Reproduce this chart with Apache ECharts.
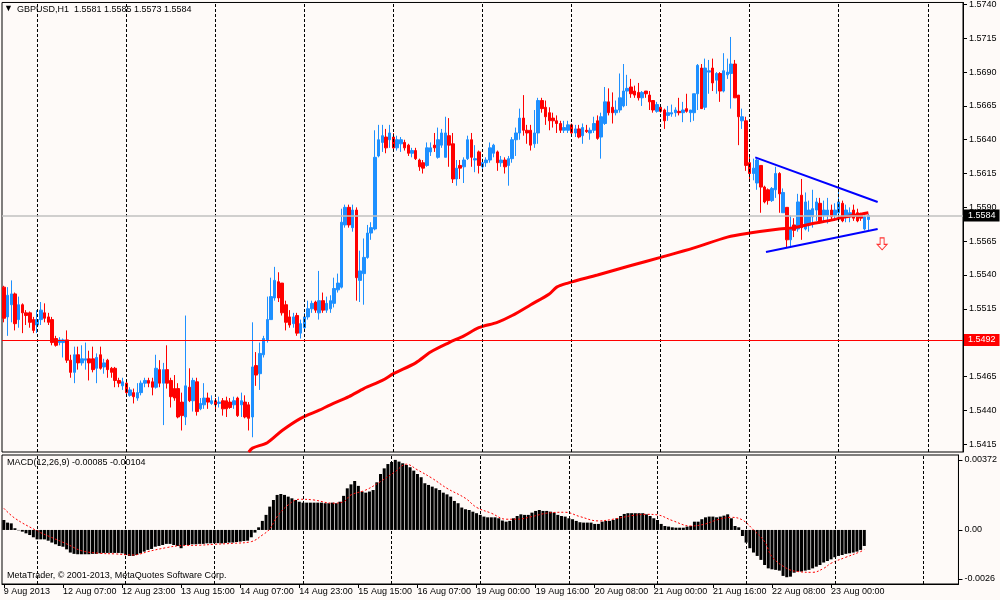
<!DOCTYPE html>
<html>
<head>
<meta charset="utf-8">
<script src="https://cdn.jsdelivr.net/npm/echarts@6/dist/echarts.min.js"></script>
<style>
html, body { margin: 0; padding: 0; background: #fefaf8; }
#chart { width: 1000px; height: 600px; }
</style>
</head>
<body>
<div id="chart"></div>
<script>
const symbolTitle = 'GBPUSD,H1  1.5581 1.5585 1.5573 1.5584';
const macdTitle = 'MACD(12,26,9) -0.00085 -0.00104';
const copyright = 'MetaTrader, \u00a9 2001-2013, MetaQuotes Software Corp.';

// one label every 16 bars
const tickLabels = ['9 Aug 2013', '12 Aug 07:00', '12 Aug 23:00', '13 Aug 15:00', '14 Aug 07:00',
    '14 Aug 23:00', '15 Aug 15:00', '16 Aug 07:00', '19 Aug 00:00', '19 Aug 16:00',
    '20 Aug 08:00', '21 Aug 00:00', '21 Aug 16:00', '22 Aug 08:00', '23 Aug 00:00'];
// bars where the dotted separators sit
const dayBars = [9, 33, 57, 81, 105, 129, 153, 177, 201, 225, 249];
const priceTicks = [1.5415, 1.5440, 1.5465, 1.5490, 1.5515, 1.5540, 1.5565, 1.5590,
    1.5615, 1.5640, 1.5665, 1.5690, 1.5715, 1.5740];
const macdTicks = [0.00372, 0, -0.0026];
const macdTickText = ['0.00372', '0.00', '-0.0026'];
const barCount = 259;

// [open, close, low, high]
const candles = [
    [1.5531,1.5508,1.5505,1.5532],[1.5509,1.5525,1.5495,1.5531],[1.5518,1.5526,1.5505,1.5536],[1.5526,1.5504,1.5499,1.5527],
    [1.5507,1.5518,1.5501,1.5524],[1.5518,1.5512,1.5497,1.5519],[1.5512,1.5510,1.5503,1.5514],[1.5512,1.5505,1.5501,1.5513],
    [1.5507,1.5499,1.5497,1.5509],[1.5503,1.5507,1.5497,1.5514],[1.5507,1.5514,1.5503,1.5520],[1.5512,1.5508,1.5505,1.5519],
    [1.5509,1.5505,1.5503,1.5512],[1.5507,1.5490,1.5488,1.5509],[1.5493,1.5488,1.5487,1.5495],[1.5490,1.5492,1.5488,1.5494],
    [1.5490,1.5492,1.5479,1.5493],[1.5492,1.5477,1.5475,1.5499],[1.5477,1.5468,1.5464,1.5481],[1.5468,1.5481,1.5460,1.5487],
    [1.5481,1.5475,1.5470,1.5487],[1.5475,1.5478,1.5473,1.5488],[1.5477,1.5478,1.5470,1.5490],[1.5478,1.5475,1.5462,1.5484],
    [1.5478,1.5470,1.5468,1.5487],[1.5471,1.5479,1.5460,1.5482],[1.5481,1.5471,1.5470,1.5487],[1.5472,1.5475,1.5467,1.5478],
    [1.5477,1.5470,1.5464,1.5478],[1.5471,1.5468,1.5464,1.5472],[1.5471,1.5462,1.5457,1.5472],[1.5462,1.5460,1.5457,1.5464],
    [1.5458,1.5461,1.5455,1.5464],[1.5460,1.5453,1.5450,1.5462],[1.5451,1.5455,1.5450,1.5457],[1.5453,1.5450,1.5445,1.5456],
    [1.5449,1.5453,1.5447,1.5460],[1.5453,1.5460,1.5451,1.5462],[1.5460,1.5462,1.5457,1.5464],[1.5462,1.5460,1.5457,1.5464],
    [1.5461,1.5457,1.5451,1.5464],[1.5457,1.5471,1.5456,1.5481],[1.5470,1.5460,1.5457,1.5477],[1.5460,1.5470,1.5429,1.5475],
    [1.5470,1.5460,1.5456,1.5488],[1.5462,1.5450,1.5442,1.5464],[1.5456,1.5449,1.5447,1.5466],[1.5456,1.5435,1.5434,1.5460],
    [1.5446,1.5436,1.5425,1.5453],[1.5435,1.5458,1.5429,1.5510],[1.5457,1.5447,1.5446,1.5471],[1.5447,1.5462,1.5439,1.5464],
    [1.5461,1.5439,1.5436,1.5464],[1.5441,1.5445,1.5440,1.5449],[1.5444,1.5449,1.5441,1.5460],[1.5449,1.5446,1.5441,1.5453],
    [1.5445,1.5447,1.5444,1.5451],[1.5447,1.5444,1.5440,1.5449],[1.5445,1.5446,1.5442,1.5450],[1.5447,1.5441,1.5436,1.5449],
    [1.5447,1.5441,1.5435,1.5450],[1.5446,1.5442,1.5441,1.5449],[1.5444,1.5447,1.5441,1.5450],[1.5449,1.5436,1.5435,1.5450],
    [1.5444,1.5447,1.5435,1.5453],[1.5446,1.5435,1.5434,1.5451],[1.5444,1.5434,1.5425,1.5446],[1.5435,1.5472,1.5420,1.5505],
    [1.5473,1.5466,1.5458,1.5483],[1.5467,1.5482,1.5455,1.5490],[1.5481,1.5493,1.5479,1.5495],[1.5492,1.5507,1.5490,1.5524],
    [1.5507,1.5524,1.5507,1.5538],[1.5523,1.5536,1.5521,1.5546],[1.5535,1.5523,1.5520,1.5542],[1.5534,1.5512,1.5510,1.5534],
    [1.5518,1.5505,1.5499,1.5521],[1.5509,1.5503,1.5501,1.5514],[1.5504,1.5509,1.5501,1.5512],[1.5510,1.5497,1.5495,1.5512],
    [1.5497,1.5504,1.5493,1.5507],[1.5501,1.5509,1.5499,1.5512],[1.5509,1.5515,1.5507,1.5521],[1.5515,1.5519,1.5512,1.5521],
    [1.5520,1.5514,1.5512,1.5521],[1.5512,1.5521,1.5507,1.5543],[1.5521,1.5514,1.5512,1.5527],[1.5514,1.5519,1.5512,1.5524],
    [1.5515,1.5521,1.5512,1.5525],[1.5519,1.5530,1.5516,1.5538],[1.5529,1.5534,1.5527,1.5541],[1.5531,1.5579,1.5530,1.5589],
    [1.5577,1.5590,1.5575,1.5592],[1.5590,1.5577,1.5575,1.5592],[1.5575,1.5588,1.5572,1.5592],[1.5588,1.5538,1.5521,1.5590],
    [1.5536,1.5543,1.5520,1.5558],[1.5541,1.5553,1.5518,1.5567],[1.5553,1.5571,1.5552,1.5577],[1.5571,1.5575,1.5566,1.5579],
    [1.5574,1.5627,1.5573,1.5647],[1.5628,1.5640,1.5627,1.5651],[1.5638,1.5643,1.5631,1.5651],[1.5642,1.5634,1.5630,1.5648],
    [1.5640,1.5645,1.5634,1.5651],[1.5642,1.5634,1.5631,1.5645],[1.5634,1.5640,1.5632,1.5643],[1.5637,1.5640,1.5631,1.5642],
    [1.5638,1.5634,1.5632,1.5640],[1.5636,1.5630,1.5628,1.5637],[1.5630,1.5632,1.5627,1.5634],[1.5632,1.5626,1.5625,1.5634],
    [1.5625,1.5620,1.5617,1.5626],[1.5623,1.5619,1.5615,1.5625],[1.5621,1.5634,1.5620,1.5638],[1.5631,1.5634,1.5628,1.5638],
    [1.5636,1.5634,1.5631,1.5645],[1.5627,1.5640,1.5626,1.5649],[1.5636,1.5645,1.5634,1.5648],[1.5627,1.5645,1.5627,1.5657],
    [1.5643,1.5636,1.5620,1.5656],[1.5637,1.5611,1.5608,1.5645],[1.5611,1.5619,1.5606,1.5625],[1.5621,1.5619,1.5611,1.5625],
    [1.5620,1.5625,1.5608,1.5627],[1.5626,1.5640,1.5625,1.5643],[1.5640,1.5627,1.5620,1.5645],[1.5625,1.5626,1.5616,1.5636],
    [1.5631,1.5621,1.5615,1.5632],[1.5620,1.5623,1.5617,1.5626],[1.5623,1.5625,1.5620,1.5627],[1.5625,1.5634,1.5623,1.5638],
    [1.5630,1.5636,1.5627,1.5637],[1.5631,1.5623,1.5617,1.5632],[1.5623,1.5625,1.5620,1.5628],[1.5625,1.5620,1.5615,1.5627],
    [1.5621,1.5626,1.5606,1.5628],[1.5626,1.5640,1.5623,1.5642],[1.5640,1.5645,1.5628,1.5649],[1.5645,1.5656,1.5640,1.5663],
    [1.5656,1.5647,1.5643,1.5673],[1.5647,1.5645,1.5637,1.5651],[1.5647,1.5636,1.5632,1.5651],[1.5637,1.5645,1.5634,1.5662],
    [1.5645,1.5669,1.5637,1.5671],[1.5669,1.5663,1.5660,1.5671],[1.5664,1.5657,1.5651,1.5669],[1.5660,1.5654,1.5647,1.5664],
    [1.5656,1.5654,1.5649,1.5660],[1.5654,1.5652,1.5645,1.5658],[1.5652,1.5647,1.5645,1.5654],[1.5647,1.5649,1.5645,1.5654],
    [1.5647,1.5651,1.5645,1.5654],[1.5651,1.5645,1.5643,1.5652],[1.5645,1.5648,1.5642,1.5651],[1.5648,1.5642,1.5641,1.5651],
    [1.5643,1.5649,1.5637,1.5652],[1.5647,1.5646,1.5645,1.5651],[1.5645,1.5647,1.5640,1.5649],[1.5647,1.5652,1.5645,1.5657],
    [1.5654,1.5641,1.5640,1.5658],[1.5642,1.5657,1.5626,1.5660],[1.5652,1.5668,1.5651,1.5679],[1.5668,1.5660,1.5658,1.5678],
    [1.5664,1.5660,1.5652,1.5675],[1.5660,1.5662,1.5658,1.5669],[1.5662,1.5671,1.5660,1.5689],[1.5665,1.5676,1.5664,1.5696],
    [1.5676,1.5678,1.5665,1.5688],[1.5679,1.5674,1.5671,1.5685],[1.5676,1.5673,1.5671,1.5680],[1.5675,1.5671,1.5669,1.5682],
    [1.5671,1.5675,1.5665,1.5676],[1.5676,1.5674,1.5671,1.5676],[1.5673,1.5668,1.5662,1.5676],[1.5669,1.5662,1.5660,1.5669],
    [1.5661,1.5666,1.5660,1.5668],[1.5664,1.5661,1.5660,1.5665],[1.5662,1.5654,1.5648,1.5663],[1.5658,1.5660,1.5654,1.5665],
    [1.5659,1.5660,1.5657,1.5666],[1.5660,1.5662,1.5657,1.5664],[1.5661,1.5660,1.5658,1.5671],[1.5660,1.5662,1.5653,1.5668],
    [1.5663,1.5661,1.5660,1.5674],[1.5660,1.5662,1.5653,1.5662],[1.5660,1.5674,1.5654,1.5674],[1.5674,1.5695,1.5662,1.5696],
    [1.5693,1.5663,1.5663,1.5696],[1.5664,1.5693,1.5662,1.5700],[1.5690,1.5691,1.5674,1.5699],[1.5693,1.5682,1.5676,1.5700],
    [1.5684,1.5689,1.5674,1.5690],[1.5689,1.5676,1.5668,1.5690],[1.5676,1.5691,1.5675,1.5704],[1.5688,1.5690,1.5685,1.5700],
    [1.5689,1.5696,1.5663,1.5716],[1.5696,1.5671,1.5671,1.5699],[1.5673,1.5657,1.5636,1.5673],[1.5654,1.5657,1.5648,1.5663],
    [1.5654,1.5621,1.5617,1.5657],[1.5623,1.5615,1.5611,1.5628],[1.5615,1.5619,1.5610,1.5626],[1.5608,1.5625,1.5603,1.5626],
    [1.5621,1.5605,1.5586,1.5621],[1.5605,1.5594,1.5593,1.5606],[1.5603,1.5595,1.5592,1.5604],[1.5595,1.5604,1.5594,1.5605],
    [1.5603,1.5615,1.5597,1.5620],[1.5615,1.5600,1.5586,1.5616],[1.5586,1.5601,1.5586,1.5604],[1.5590,1.5566,1.5560,1.5590],
    [1.5566,1.5574,1.5560,1.5584],[1.5577,1.5573,1.5568,1.5582],[1.5574,1.5594,1.5572,1.5600],[1.5599,1.5575,1.5566,1.5611],
    [1.5574,1.5594,1.5573,1.5601],[1.5577,1.5588,1.5572,1.5595],[1.5583,1.5589,1.5575,1.5603],[1.5588,1.5594,1.5580,1.5597],
    [1.5593,1.5579,1.5578,1.5597],[1.5584,1.5588,1.5579,1.5595],[1.5584,1.5588,1.5578,1.5597],[1.5588,1.5583,1.5580,1.5592],
    [1.5584,1.5588,1.5580,1.5593],[1.5586,1.5594,1.5582,1.5603],[1.5593,1.5580,1.5579,1.5595],[1.5583,1.5588,1.5579,1.5592],
    [1.5584,1.5586,1.5579,1.5590],[1.5588,1.5582,1.5580,1.5592],[1.5586,1.5580,1.5579,1.5589],[1.5584,1.5582,1.5580,1.5586],
    [1.5574,1.5583,1.5573,1.5584],[1.5581,1.5584,1.5573,1.5585]
];

// moving average, [bar, price]
const maLine = [[66,1.5409],[67,1.5412],[71,1.5416],[75,1.5425],[80,1.5434],[85,1.5440],[88,1.5444],[93,1.5450],
    [97,1.5456],[102,1.5462],[105,1.5467],[111,1.5475],[115,1.5483],[120,1.5490],[124,1.5495],[128,1.5501],
    [133,1.5505],[137,1.5510],[142,1.5518],[147,1.5526],[149,1.5531],[152,1.5534],[160,1.5540],[169,1.5547],
    [177,1.5553],[186,1.5560],[195,1.5568],[201,1.5571],[209,1.5574],[213,1.5575],[218,1.5578],[222,1.5580],
    [227,1.5583],[231,1.5585],[233,1.5586]];

const macdHist = [
    0.00053,0.00039,0.00035,0.00009,-0.00002,-0.00009,-0.00018,-0.00027,-0.00039,-0.0005,
    -0.0005,-0.0005,-0.00057,-0.00067,-0.00076,-0.00085,-0.00089,-0.00103,-0.0012,-0.00127,
    -0.00129,-0.00129,-0.00129,-0.00129,-0.00127,-0.00127,-0.00124,-0.00122,-0.00122,-0.00122,
    -0.00122,-0.00122,-0.00124,-0.00133,-0.00138,-0.00138,-0.00133,-0.00124,-0.00115,-0.00106,
    -0.00101,-0.00089,-0.00085,-0.0008,-0.00074,-0.00074,-0.0008,-0.00085,-0.00097,-0.0008,
    -0.0008,-0.00076,-0.00076,-0.00074,-0.00074,-0.00071,-0.00071,-0.0007,-0.0007,-0.00071,
    -0.00069,-0.00067,-0.00067,-0.00064,-0.00062,-0.00059,-0.00057,-0.00039,-0.00014,0.00014,
    0.00048,0.0008,0.00124,0.00159,0.00186,0.00191,0.00186,0.00177,0.00168,0.00159,
    0.0015,0.00145,0.00145,0.00145,0.00145,0.00145,0.00145,0.00142,0.00142,0.00145,
    0.00142,0.0015,0.00181,0.00221,0.00242,0.0026,0.00234,0.00204,0.00198,0.00204,
    0.00212,0.00253,0.00297,0.00327,0.0035,0.00361,0.00372,0.00363,0.00354,0.00345,
    0.00333,0.00315,0.00297,0.0028,0.00248,0.00239,0.0023,0.00221,0.00212,0.00198,
    0.00189,0.00177,0.00154,0.00142,0.00119,0.0011,0.00106,0.00097,0.00089,0.0008,
    0.00071,0.00067,0.00067,0.00067,0.00062,0.0005,0.00044,0.00048,0.00062,0.00074,
    0.00083,0.0008,0.0008,0.00092,0.00101,0.00106,0.00101,0.00101,0.00097,0.00092,
    0.0008,0.00074,0.00071,0.00062,0.00057,0.00048,0.00041,0.00039,0.00039,0.00039,
    0.00032,0.00032,0.00044,0.00048,0.00048,0.00053,0.00062,0.00074,0.00085,0.00089,
    0.00089,0.00089,0.00089,0.00089,0.00083,0.00074,0.00062,0.00053,0.00032,0.00021,
    0.00018,0.00014,0.00012,0.00012,0.00012,0.00018,0.00021,0.00044,0.00044,0.00057,
    0.00067,0.00071,0.00071,0.00067,0.00071,0.00076,0.00083,0.00062,0.00021,0.00014,
    -0.00032,-0.00067,-0.00097,-0.0012,-0.00138,-0.00159,-0.00186,-0.00204,-0.00209,-0.00212,
    -0.00216,-0.00244,-0.00251,-0.00248,-0.00227,-0.00221,-0.00221,-0.00216,-0.00212,-0.00204,
    -0.00195,-0.00186,-0.00173,-0.00165,-0.00156,-0.00145,-0.00138,-0.00133,-0.00127,-0.00124,
    -0.0012,-0.00115,-0.00106,-0.00085
];

// signal line, [bar, value]
const macdSignal = [[0,0.00115],[3,0.00062],[9,-0.00005],[12,-0.00032],[17,-0.00074],[21,-0.0011],[26,-0.00124],
    [30,-0.00127],[35,-0.00133],[37,-0.00127],[39,-0.00115],[44,-0.00094],[48,-0.00083],[53,-0.00081],
    [57,-0.00076],[62,-0.00071],[67,-0.00062],[70,-0.00027],[72,0.00005],[74,0.00071],[77,0.00133],
    [80,0.00163],[84,0.00159],[89,0.00142],[92,0.0015],[94,0.00186],[98,0.00212],[102,0.00257],
    [106,0.0031],[109,0.00349],[112,0.00319],[116,0.00274],[120,0.00221],[125,0.00168],[128,0.0012],
    [132,0.00089],[136,0.00057],[139,0.00057],[143,0.00071],[147,0.00089],[152,0.00094],[156,0.00071],
    [161,0.00048],[165,0.00057],[170,0.00076],[174,0.00083],[177,0.0008],[181,0.0005],[186,0.00021],
    [190,0.00032],[193,0.00053],[197,0.00067],[200,0.00053],[203,0],[206,-0.00062],[208,-0.00142],
    [212,-0.00204],[215,-0.00221],[219,-0.00225],[222,-0.00204],[224,-0.00177],[228,-0.00145],
    [232,-0.00115],[233,-0.00104]];

// drawn triangle and marker
const upperLine = [[202.5, 1.5627], [235.5, 1.5594]];
const lowerLine = [[205.4, 1.5557], [235.5, 1.5574]];
const arrowPoint = [[236.7, 1.5563]];
const bidPrice = 1.5584;
const levelPrice = 1.5492;

const cats = [];
for (let i = 0; i < barCount; i++) cats.push(String(i));

const font = 'Liberation Sans';
const showTick = function (idx) {
    return idx % 16 === 0 && idx / 16 < tickLabels.length;
};
const dayLines = dayBars.map(function (b) {
    return { xAxis: b, lineStyle: { color: '#000', width: 1, type: [3, 2] }, label: { show: false } };
});
const priceBox = function (v, bg) {
    return { show: true, position: 'end', formatter: v.toFixed(4), backgroundColor: bg, color: '#fff',
        fontSize: 9, fontFamily: font, padding: [2, 4, 1, 4], distance: 1 };
};

const chart = echarts.init(document.getElementById('chart'));
const option = {
    backgroundColor: '#fefaf8',
    animation: false,
    textStyle: { fontFamily: font },
    grid: [
        { left: 2, top: 2, width: 961, height: 450, show: true, borderColor: '#000', borderWidth: 1 },
        { left: 2, top: 455, width: 961, height: 129, show: true, borderColor: '#000', borderWidth: 1 }
    ],
    xAxis: [
        { type: 'category', gridIndex: 0, data: cats, axisLine: { show: false, onZero: false }, axisTick: { show: false },
            axisLabel: { show: false }, splitLine: { show: false } },
        { type: 'category', gridIndex: 1, data: cats,
            axisLine: { show: true, onZero: false, lineStyle: { color: '#000' } },
            axisTick: { show: true, interval: showTick, alignWithLabel: true, length: 4, lineStyle: { color: '#000' } },
            axisLabel: { interval: showTick, formatter: function (v, idx) { return tickLabels[Math.round(idx / 16)]; },
                align: 'left', margin: 3, fontSize: 9, color: '#000', fontFamily: font },
            splitLine: { show: false } },
        { type: 'value', gridIndex: 0, min: -0.5, max: barCount - 0.5, show: false, axisLine: { onZero: false } }
    ],
    yAxis: [
        { type: 'value', gridIndex: 0, position: 'right', min: 1.54091, max: 1.57415,
            axisLine: { show: true, onZero: false, lineStyle: { color: '#000' } },
            axisTick: { show: true, customValues: priceTicks, length: 4, lineStyle: { color: '#000' } },
            axisLabel: { customValues: priceTicks, formatter: function (v) { return v.toFixed(4); },
                fontSize: 9, color: '#000', margin: 6, fontFamily: font },
            splitLine: { show: false } },
        { type: 'value', gridIndex: 1, position: 'right', min: -0.00287, max: 0.00398,
            axisLine: { show: true, onZero: false, lineStyle: { color: '#000' } },
            axisTick: { show: true, customValues: macdTicks, length: 4, lineStyle: { color: '#000' } },
            axisLabel: { customValues: macdTicks, formatter: function (v) {
                    let k = macdTicks.indexOf(v);
                    return k >= 0 ? macdTickText[k] : '';
                }, fontSize: 9, color: '#000', margin: 6, fontFamily: font },
            splitLine: { show: false } }
    ],
    series: [
        {
            // separators and horizontal price lines only
            type: 'line', xAxisIndex: 2, yAxisIndex: 0, data: [], z: 1,
            markLine: {
                silent: true, symbol: ['none', 'none'], animation: false, precision: 5,
                data: dayLines.concat([
                    { yAxis: bidPrice, lineStyle: { color: '#c0c0c0', width: 1.5, type: 'solid' }, label: priceBox(bidPrice, '#000') },
                    { yAxis: levelPrice, lineStyle: { color: '#ff0000', width: 1, type: 'solid' }, label: priceBox(levelPrice, '#ff0000') }
                ])
            }
        },
        {
            type: 'candlestick', xAxisIndex: 0, yAxisIndex: 0, data: candles, barWidth: 3,
            itemStyle: { color: '#1e90ff', color0: '#ff0000', borderColor: '#1e90ff', borderColor0: '#ff0000', borderWidth: 1 },
            z: 2
        },
        {
            type: 'line', xAxisIndex: 0, yAxisIndex: 0, data: maLine, showSymbol: false, smooth: 0.3,
            lineStyle: { color: '#ff0000', width: 3 }, z: 3
        },
        {
            type: 'line', xAxisIndex: 2, yAxisIndex: 0, data: upperLine, showSymbol: false,
            lineStyle: { color: '#0000ff', width: 2 }, z: 4
        },
        {
            type: 'line', xAxisIndex: 2, yAxisIndex: 0, data: lowerLine, showSymbol: false,
            lineStyle: { color: '#0000ff', width: 2 }, z: 4
        },
        {
            type: 'scatter', xAxisIndex: 2, yAxisIndex: 0, data: arrowPoint,
            symbol: 'path://M3,0 L7,0 L7,6 L10,6 L5,11 L0,6 L3,6 Z', symbolSize: [10, 12],
            itemStyle: { color: '#fefaf8', borderColor: '#ff0000', borderWidth: 1 }, z: 4
        },
        {
            type: 'bar', xAxisIndex: 1, yAxisIndex: 1, data: macdHist, barWidth: 3,
            itemStyle: { color: '#000' }, z: 2,
            markLine: { silent: true, symbol: ['none', 'none'], animation: false, data: dayLines }
        },
        {
            type: 'line', xAxisIndex: 1, yAxisIndex: 1, data: macdSignal, showSymbol: false, smooth: 0.4,
            lineStyle: { color: '#ff0000', width: 1, type: [2, 2] }, z: 3
        }
    ],
    graphic: [
        { type: 'text', left: 4, top: 4, style: { text: '\u25bc', fill: '#000', font: '9px ' + font } },
        { type: 'text', left: 17, top: 5, style: { text: symbolTitle, fill: '#000', font: '9px ' + font } },
        { type: 'text', left: 7, top: 458, style: { text: macdTitle, fill: '#000', font: '9px ' + font } },
        { type: 'text', left: 7, top: 571, style: { text: copyright, fill: '#000', font: '9px ' + font } }
    ]
};
chart.setOption(option);
</script>
</body>
</html>
